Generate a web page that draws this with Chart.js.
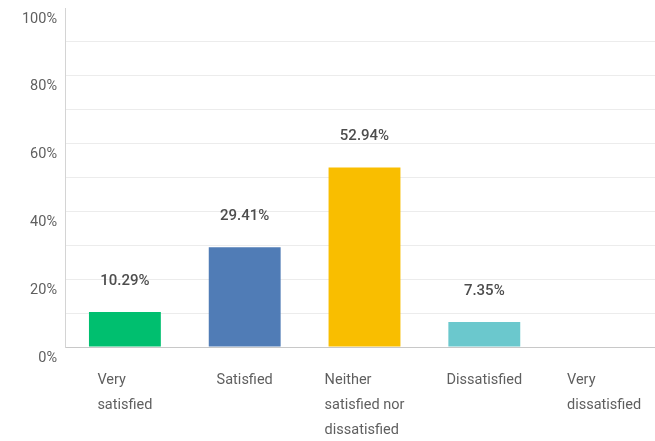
<!DOCTYPE html>
<html>
<head>
<meta charset="utf-8">
<script src="https://cdn.jsdelivr.net/npm/chart.js@4/dist/chart.umd.min.js"></script>
<style>
  html, body { margin: 0; padding: 0; background: #ffffff; overflow: hidden; }
  #wrap { position: relative; width: 664px; height: 441px; }
</style>
</head>
<body>
<div id="wrap"><canvas id="chart"></canvas></div>
<script>
// Survey answer options (each entry is the lines of a wrapped label)
const categories = [
  ["Very", "satisfied"],
  ["Satisfied"],
  ["Neither", "satisfied nor", "dissatisfied"],
  ["Dissatisfied"],
  ["Very", "dissatisfied"]
];
// Share of responses, percent
const responses = [10.29, 29.41, 52.94, 7.35, 0];
const barColors = ["#00BF6F", "#507CB6", "#F9BE00", "#6BC8CD", "#FF8B4F"];
const yTicks = [0, 20, 40, 60, 80, 100];

const FONT = "Roboto, 'Liberation Sans', sans-serif";

// Value labels above each bar
const valueLabels = {
  id: "valueLabels",
  afterDatasetsDraw(chart) {
    const ctx = chart.ctx;
    const meta = chart.getDatasetMeta(0);
    ctx.save();
    ctx.font = "500 15px " + FONT;
    ctx.fillStyle = "#4d4d4d";
    ctx.textAlign = "center";
    ctx.textBaseline = "middle";
    meta.data.forEach((bar, i) => {
      const v = responses[i];
      if (!v) return;
      ctx.fillText(v.toFixed(2) + "%", bar.x, bar.y - 31);
    });
    ctx.restore();
  }
};

// Wrapped category labels: left-aligned lines, block centred under the bar
const categoryLabels = {
  id: "categoryLabels",
  afterDraw(chart) {
    const ctx = chart.ctx;
    const xs = chart.scales.x;
    ctx.save();
    ctx.font = "14.5px " + FONT;
    ctx.fillStyle = "#5f5f5f";
    ctx.textAlign = "left";
    ctx.textBaseline = "middle";
    categories.forEach((lines, i) => {
      const cx = xs.getPixelForValue(i);
      const w = Math.max(...lines.map(l => ctx.measureText(l).width));
      lines.forEach((line, j) => {
        ctx.fillText(line, cx - w / 2, xs.top + 33 + j * 25);
      });
    });
    ctx.restore();
  }
};

new Chart(document.getElementById("chart"), {
  type: "bar",
  data: {
    labels: categories.map(l => l.join(" ")),
    datasets: [{
      data: responses,
      backgroundColor: barColors,
      borderWidth: 0,
      categoryPercentage: 1,
      barPercentage: 0.6
    }]
  },
  options: {
    responsive: true,
    maintainAspectRatio: false,
    animation: false,
    layout: { padding: { top: 8, left: 0, right: 0, bottom: 0 } },
    plugins: { legend: { display: false }, tooltip: { enabled: false } },
    scales: {
      x: {
        grid: { display: false },
        border: { display: true, color: "#c8c8c8", width: 1 },
        ticks: { display: false },
        afterFit(scale) { scale.height = 94; scale.paddingLeft = 0; scale.paddingRight = 0; }
      },
      y: {
        min: 0,
        max: 100,
        grid: {
          color: c => (c.tick && c.tick.value === 100 ? "rgba(0,0,0,0)" : "#ececec"),
          lineWidth: 1,
          drawTicks: false
        },
        border: { display: true, color: "#d4d4d4", width: 1 },
        ticks: {
          stepSize: 10,
          padding: 8,
          labelOffset: 11,
          color: "#5f5f5f",
          font: { family: FONT, size: 14.5 },
          callback: v => (yTicks.includes(v) ? v + "%" : "")
        },
        afterFit(scale) { scale.width = 65; scale.paddingTop = 0; scale.paddingBottom = 0; }
      }
    }
  },
  plugins: [valueLabels, categoryLabels]
});
</script>
</body>
</html>
